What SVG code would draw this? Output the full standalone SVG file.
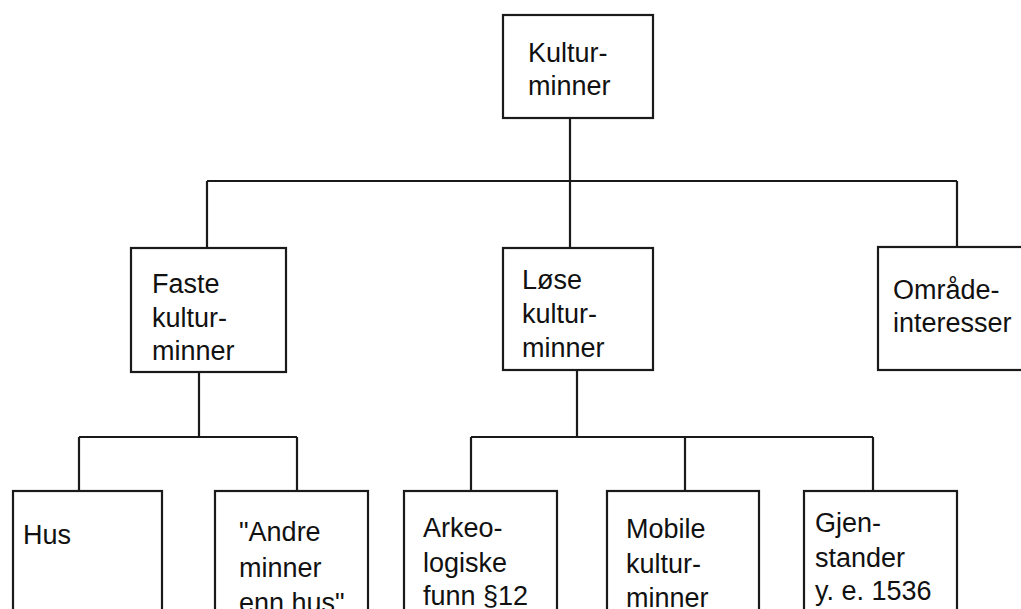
<svg xmlns="http://www.w3.org/2000/svg" width="1021" height="609" viewBox="0 0 1021 609">
<style>
.box{fill:#fff;stroke:#1a1a1a;stroke-width:2.2}
.ln{fill:none;stroke:#1a1a1a;stroke-width:2.2}
text{font-family:"Liberation Sans",Arial,sans-serif;font-size:27px;fill:#111}
</style>
<rect width="1021" height="609" fill="#fff"/>
<g id="connectors">
<path class="ln" d="M570,118 V181 M207,181 H957 M207,181 V248 M570,181 V248 M957,181 V247"/>
<path class="ln" d="M199,372 V437 M79,437 H297 M79,437 V491 M297,437 V491"/>
<path class="ln" d="M577,370 V437 M471,437 H873 M471,437 V491 M685,437 V491 M873,437 V491"/>
</g>
<g id="kulturminner"><rect class="box" x="503" y="15" width="150" height="103"/><text x="528" y="62">Kultur-</text><text x="528" y="95">minner</text></g>
<g id="faste"><rect class="box" x="131" y="248" width="155" height="124"/><text x="152" y="293">Faste</text><text x="152" y="327">kultur-</text><text x="152" y="360">minner</text></g>
<g id="lose"><rect class="box" x="503" y="248" width="150" height="122"/><text x="522" y="289">Løse</text><text x="522" y="323">kultur-</text><text x="522" y="357">minner</text></g>
<g id="omrade"><rect class="box" x="878" y="247" width="160" height="123"/><text x="893" y="299">Område-</text><text x="893" y="332">interesser</text></g>
<g id="hus"><rect class="box" x="13" y="491" width="149" height="140"/><text x="23" y="544">Hus</text></g>
<g id="andre"><rect class="box" x="215" y="491" width="153" height="140"/><text x="239" y="541">"Andre</text><text x="239" y="577">minner</text><text x="239" y="612">enn hus"</text></g>
<g id="arkeo"><rect class="box" x="404" y="491" width="153" height="140"/><text x="423" y="537">Arkeo-</text><text x="423" y="572">logiske</text><text x="423" y="605">funn §12</text></g>
<g id="mobile"><rect class="box" x="607" y="491" width="152" height="140"/><text x="626" y="538">Mobile</text><text x="626" y="573">kultur-</text><text x="626" y="607">minner</text></g>
<g id="gjen"><rect class="box" x="804" y="491" width="153" height="140"/><text x="815" y="532">Gjen-</text><text x="815" y="567">stander</text><text x="815" y="600">y. e. 1536</text></g>
</svg>
